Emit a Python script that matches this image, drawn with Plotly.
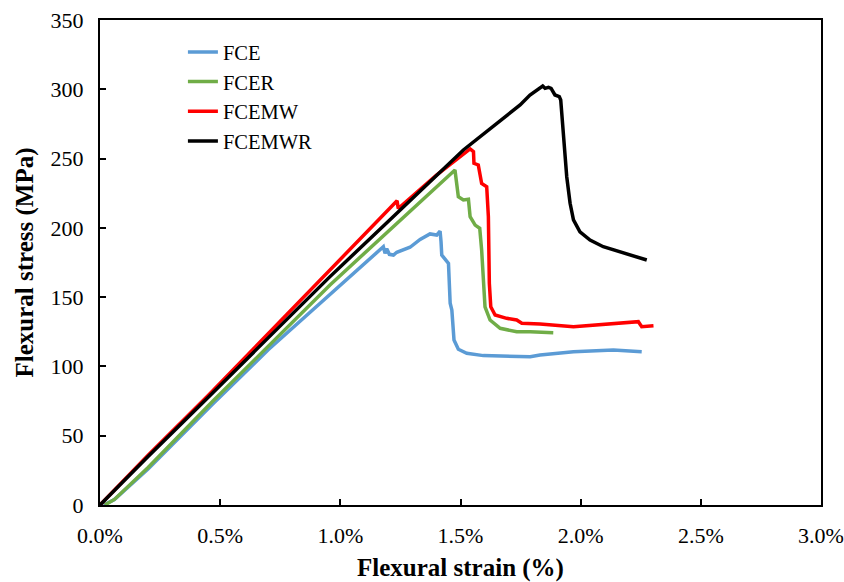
import plotly.graph_objects as go

# Flexural strain (%) and stress (MPa)
fce_x = [0.015, 0.06, 0.2, 0.47, 0.7, 0.957, 1.179, 1.186, 1.193, 1.204, 1.221, 1.235, 1.29, 1.332,
         1.373, 1.401, 1.415, 1.419, 1.422, 1.45, 1.457, 1.464, 1.473, 1.491, 1.526, 1.595, 1.79,
         1.831, 1.97, 2.136, 2.254]
fce_y = [0, 4, 26, 73, 112, 151.5, 186.4, 181.6, 185, 180.9, 180.4, 182.4, 186, 191.7,
         195.6, 194.8, 197.7, 190, 180.4, 174.4, 145.6, 140.7, 119, 112.4, 109.5, 107.8, 107,
         108.2, 110.6, 111.9, 110.6]

fcer_x = [0.02, 0.06, 0.2, 0.47, 0.957, 1.477, 1.491, 1.512, 1.533, 1.54, 1.561, 1.58, 1.588,
          1.595, 1.602, 1.623, 1.665, 1.734, 1.79, 1.886]
fcer_y = [0, 4, 27, 75, 158.8, 241.8, 222.5, 220.1, 220.6, 208, 202, 199.7, 184,
          160, 143, 133.5, 127.5, 125, 125, 124.3]

fcemw_x = [0, 0.2, 0.45, 0.957, 1.228, 1.236, 1.241, 1.4, 1.54, 1.554, 1.556, 1.574, 1.588,
           1.609, 1.616, 1.62, 1.626, 1.644, 1.692, 1.734, 1.755, 1.79, 1.831, 1.97, 2.109,
           2.24, 2.254, 2.303]
fcemw_y = [0, 36, 79, 169.6, 218.9, 219.5, 214, 238, 257, 255, 246.6, 245.4, 232,
           229.7, 208, 160, 143, 137.1, 134.7, 133.5, 131.1, 130.6, 130.6, 128.7, 130.6,
           132.3, 128.7, 129.4]

fcemwr_x = [0, 0.2, 0.44, 0.957, 1.2, 1.512, 1.748, 1.789, 1.842, 1.852, 1.866, 1.877, 1.893,
            1.911, 1.917, 1.928, 1.942, 1.956, 1.97, 1.997, 2.039, 2.094, 2.164, 2.22, 2.275]
fcemwr_y = [0, 35, 76, 164.8, 204.8, 256.2, 288.7, 295.9, 302.4, 300.7, 301.4, 300.7, 295.9,
            294.7, 292.3, 265.8, 236.9, 217.7, 205.7, 197.2, 191.2, 186.4, 182.8, 179.9, 176.8]

names = ["FCE", "FCER", "FCEMW", "FCEMWR"]
colors = ["#5B9BD5", "#70AD47", "#FF0000", "#000000"]
series = [(fce_x, fce_y), (fcer_x, fcer_y), (fcemw_x, fcemw_y), (fcemwr_x, fcemwr_y)]

FONT = "Liberation Serif"

fig = go.Figure()
for name, color, (xs, ys) in zip(names, colors, series):
    fig.add_trace(go.Scatter(x=xs, y=ys, mode="lines", name=name,
                             line=dict(color=color, width=3.5)))

axis_common = dict(showline=True, linecolor="black", linewidth=2, mirror=True,
                   ticks="inside", ticklen=6, tickwidth=2, tickcolor="black",
                   showgrid=False, zeroline=False,
                   tickfont=dict(family=FONT, size=22, color="black"))

fig.update_xaxes(range=[0, 3], dtick=0.5, tick0=0, tickformat=".1f", ticksuffix="%",
                 title=dict(text="<b>Flexural strain (%)</b>", standoff=14,
                            font=dict(family=FONT, size=25, color="black")),
                 ticklabelstandoff=10, **axis_common)
fig.update_yaxes(range=[0, 350], dtick=50, tick0=0,
                 title=dict(text="<b>Flexural stress (MPa)</b>", standoff=10,
                            font=dict(family=FONT, size=25, color="black")),
                 ticklabelstandoff=10, **axis_common)

fig.update_layout(
    width=844, height=582,
    margin=dict(l=100, r=23, t=20, b=77, autoexpand=False),
    paper_bgcolor="white", plot_bgcolor="white",
    showlegend=True,
    legend=dict(x=0.115, y=0.975, xanchor="left", yanchor="top",
                font=dict(family=FONT, size=20.5, color="black"),
                bgcolor="rgba(0,0,0,0)"),
)

fig.write_html("out.html")
